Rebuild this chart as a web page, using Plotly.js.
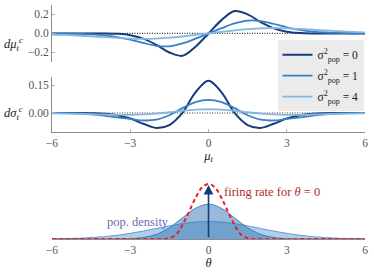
<!DOCTYPE html>
<html>
<head>
<meta charset="utf-8">
<script src="https://cdn.plot.ly/plotly-3.0.1.min.js"></script>
<style>html,body{margin:0;padding:0;background:#fff;}#chart{width:374px;height:273px;}</style>
</head>
<body>
<div id="chart"></div>
<script>
// ---- data ----
var mu = [-6,-5.5,-5,-4.5,-4,-3.5,-3,-2.5,-2,-1.5,-1,-0.5,0,0.5,1,1.5,2,2.5,3,3.5,4,4.5,5,5.5,6];
var seriesNames = ['σ<sup>2</sup><sub>pop</sub> = 0','σ<sup>2</sup><sub>pop</sub> = 1','σ<sup>2</sup><sub>pop</sub> = 4'];
// d mu_t^c
var dmu0 = [0,0,0,0,0,-0.004,-0.018,-0.055,-0.12,-0.20,-0.235,-0.14,0,0.14,0.235,0.20,0.12,0.055,0.018,0.004,0,0,0,0,0];
var dmu1 = [-0.001,-0.002,-0.005,-0.01,-0.02,-0.038,-0.065,-0.10,-0.13,-0.135,-0.105,-0.055,0,0.055,0.105,0.135,0.13,0.10,0.065,0.038,0.02,0.01,0.005,0.002,0.001];
var dmu4 = [-0.011,-0.016,-0.023,-0.031,-0.039,-0.047,-0.054,-0.057,-0.054,-0.045,-0.032,-0.016,0,0.016,0.032,0.045,0.054,0.057,0.054,0.047,0.039,0.031,0.023,0.016,0.011];
// d sigma_t^c
var dsg0 = [0,0,0,-0.001,-0.004,-0.012,-0.03,-0.058,-0.08,-0.065,0,0.11,0.173,0.11,0,-0.065,-0.08,-0.058,-0.03,-0.012,-0.004,-0.001,0,0,0];
var dsg1 = [0,-0.001,-0.003,-0.007,-0.014,-0.024,-0.032,-0.04,-0.036,-0.012,0.026,0.058,0.07,0.058,0.026,-0.012,-0.036,-0.04,-0.032,-0.024,-0.014,-0.007,-0.003,-0.001,0];
var dsg4 = [-0.002,-0.003,-0.004,-0.006,-0.008,-0.01,-0.01,-0.008,-0.003,0.004,0.012,0.018,0.02,0.018,0.012,0.004,-0.003,-0.008,-0.01,-0.01,-0.008,-0.006,-0.004,-0.003,-0.002];
// bottom panel
var theta = mu;
var popDensity1 = [0,0,0,0,0,0.001,0.004,0.018,0.054,0.13,0.242,0.352,0.40,0.352,0.242,0.13,0.054,0.018,0.004,0.001,0,0,0,0,0];
var popDensity4 = [0.0025,0.005,0.009,0.016,0.027,0.043,0.065,0.091,0.121,0.151,0.176,0.194,0.20,0.194,0.176,0.151,0.121,0.091,0.065,0.043,0.027,0.016,0.009,0.005,0.0025];
var thetaRate = [-6,-2,-1.75,-1.5,-1.25,-1,-0.75,-0.5,-0.25,0,0.25,0.5,0.75,1,1.25,1.5,1.75,2,6];
var firingRate = [0,0,0,0.01,0.05,0.16,0.31,0.47,0.59,0.63,0.59,0.47,0.31,0.16,0.05,0.01,0,0,0];
var deltaPeak = 0.62;
var xTicks = [-6,-3,0,3,6];

var cols = ['#143d7a','#3a7fc1','#82b8e2'];
var serif = 'Liberation Serif';

function lineTrace(x, y, i, xa, ya, show){
  return {x:x, y:y, type:'scatter', mode:'lines', name:seriesNames[i], xaxis:xa, yaxis:ya,
    showlegend:show, legendgroup:'g'+i, line:{color:cols[i], width:(i===0?2:1.8), shape:'spline', smoothing:1}};
}
var traces = [
  lineTrace(mu, dmu0, 0, 'x', 'y', true),
  lineTrace(mu, dmu1, 1, 'x', 'y', true),
  lineTrace(mu, dmu4, 2, 'x', 'y', true),
  lineTrace(mu, dsg0, 0, 'x2', 'y2', false),
  lineTrace(mu, dsg1, 1, 'x2', 'y2', false),
  lineTrace(mu, dsg4, 2, 'x2', 'y2', false),
  {x:theta, y:popDensity4, type:'scatter', mode:'lines', fill:'tozeroy', xaxis:'x3', yaxis:'y3', showlegend:false,
   fillcolor:'rgba(107,168,216,0.55)', line:{color:'rgba(90,150,205,0.9)', width:1, shape:'spline'}},
  {x:theta, y:popDensity1, type:'scatter', mode:'lines', fill:'tozeroy', xaxis:'x3', yaxis:'y3', showlegend:false,
   fillcolor:'rgba(50,115,180,0.5)', line:{color:'rgba(55,120,185,0.9)', width:1, shape:'spline'}},
  {x:thetaRate, y:firingRate, type:'scatter', mode:'lines', xaxis:'x3', yaxis:'y3', showlegend:false,
   line:{color:'#ee1c25', width:2, dash:'4px,3px', shape:'spline'}}
];

var axBase = {showgrid:false, zeroline:false, linecolor:'#8c8c8c', linewidth:1, ticks:'inside', ticklen:3,
  tickcolor:'#b0b0b0', tickfont:{family:serif, size:11.5, color:'#555'}};
var xdom = [0.139, 0.976];
var layout = {
  width:374, height:273, margin:{l:0,r:0,t:0,b:0}, paper_bgcolor:'#fff', plot_bgcolor:'rgba(0,0,0,0)',
  font:{family:serif, size:11, color:'#333'},
  showlegend:true,
  legend:{x:0.742, y:0.853, xanchor:'left', yanchor:'top', bgcolor:'#ebebeb', borderwidth:0,
    font:{family:serif, size:11.5, color:'#222'}, itemwidth:30, tracegroupgap:2},
  xaxis: Object.assign({}, axBase, {domain:xdom, anchor:'y', range:[-6,6], showline:false, ticks:'', showticklabels:false}),
  yaxis: Object.assign({}, axBase, {domain:[0.773,0.982], anchor:'x', range:[-0.3,0.3], showline:true,
    tickvals:[-0.2,0,0.2], tickformat:'.1f'}),
  xaxis2: Object.assign({}, axBase, {domain:xdom, anchor:'y2', range:[-6,6], showline:true, tickvals:xTicks,
    title:{text:'<i>μ</i><sub><i>t</i></sub>', font:{family:serif, size:12.5, color:'#222'}, standoff:2}}),
  yaxis2: Object.assign({}, axBase, {domain:[0.5165,0.718], anchor:'x2', range:[-0.102,0.193], showline:true,
    tickvals:[0,0.15], tickformat:'.2f'}),
  xaxis3: Object.assign({}, axBase, {domain:xdom, anchor:'y3', range:[-6,6], showline:true, tickvals:xTicks,
    title:{text:'<i>θ</i>', font:{family:serif, size:12.5, color:'#222'}, standoff:2}}),
  yaxis3: {domain:[0.1245,0.348], anchor:'x3', range:[0,0.7], visible:false, showgrid:false, zeroline:false},
  shapes:[
    {type:'line', xref:'x', yref:'y', x0:-6, x1:6, y0:0, y1:0, line:{color:'#333', width:1.2, dash:'1px,1.5px'}, layer:'below'},
    {type:'line', xref:'x2', yref:'y2', x0:-6, x1:6, y0:0, y1:0, line:{color:'#333', width:1.2, dash:'1px,1.5px'}, layer:'below'}
  ],
  annotations:[
    {xref:'paper', yref:'paper', x:0.066, y:0.879, xanchor:'right', text:'<i>dμ</i><sub><i>t</i></sub><sup><i>c</i></sup>', showarrow:false,
     font:{family:serif, size:12.5, color:'#222'}},
    {xref:'paper', yref:'paper', x:0.066, y:0.586, xanchor:'right', text:'<i>dσ</i><sub><i>t</i></sub><sup><i>c</i></sup>', showarrow:false,
     font:{family:serif, size:12.5, color:'#222'}},
    {xref:'x3', yref:'y3', x:0, y:deltaPeak, ax:0, ay:0, axref:'x3', ayref:'y3', text:'', showarrow:true,
     arrowhead:2, arrowsize:1.2, arrowwidth:1.6, arrowcolor:'#143d7a'},
    {xref:'x3', yref:'y3', x:0.5, y:0.54, xanchor:'left', text:'firing rate for <i>θ</i> = 0', showarrow:false,
     font:{family:serif, size:12.5, color:'#b02a2a'}},
    {xref:'x3', yref:'y3', x:-2.71, y:0.19, xanchor:'center', text:'pop. density', showarrow:false,
     font:{family:serif, size:12.5, color:'#6b6bb3'}}
  ]
};
Plotly.newPlot('chart', traces, layout, {displayModeBar:false, staticPlot:true});
</script>
</body>
</html>
